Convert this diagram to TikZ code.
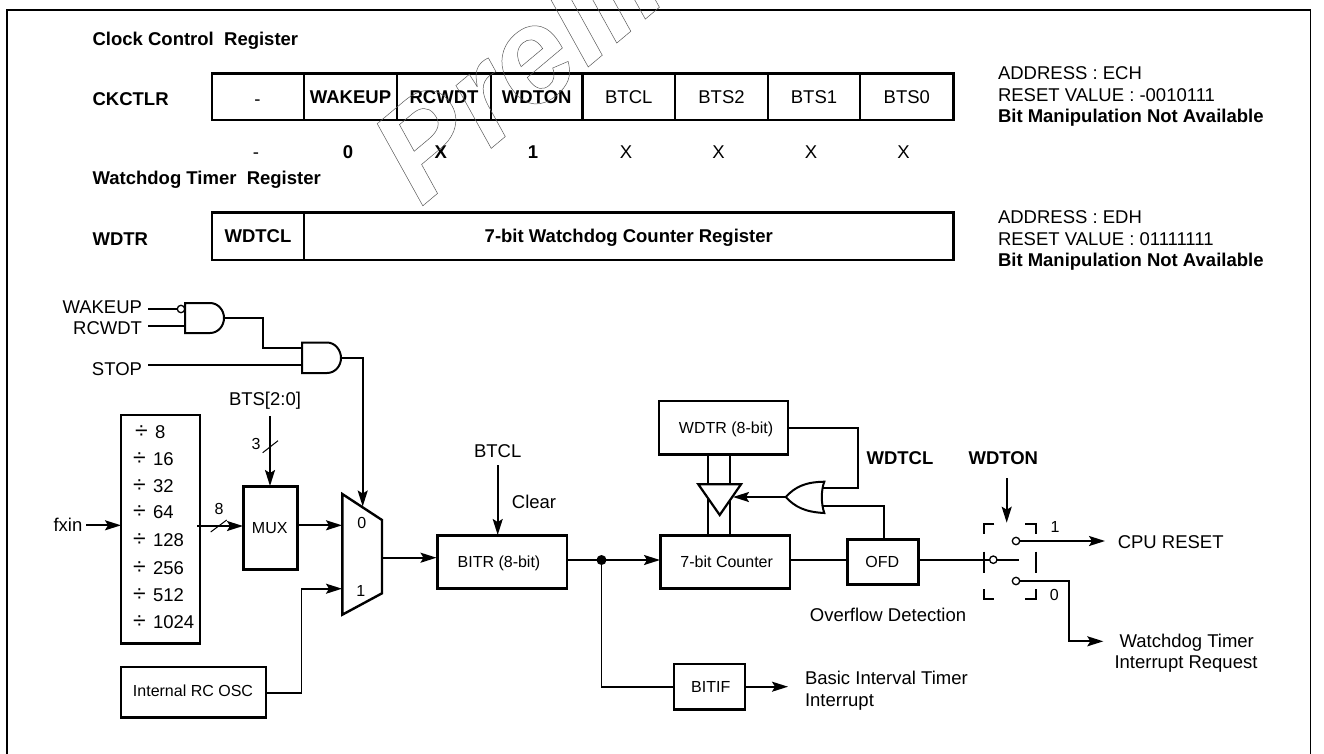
\documentclass[tikz,border=0pt]{standalone}
\usepackage{fontspec}
\setmainfont{Liberation Sans}
\usetikzlibrary{arrows.meta}
\newcommand{\rbox}[6]{%
  \pgfmathsetmacro\cx{(#2+#4)/2}\pgfmathsetmacro\cy{(#3+#5)/2}%
  \pgfmathsetmacro\bw{abs(#4-#2)}\pgfmathsetmacro\bh{abs(#5-#3)}%
  \node[blockbox,minimum width=\bw pt,minimum height=\bh pt] (#1) at (\cx,\cy) {#6};}
\newcommand{\dv}[1]{{\fontsize{23}{24}\selectfont ÷}\hspace{7.5pt}#1}
\tikzset{
  blockbox/.style={draw=black,line width=2.7pt,fill=white,inner sep=0pt,outer sep=0pt,align=center},
  big/.style={font=\fontsize{18.5}{20}\selectfont,inner sep=0pt,outer sep=0pt,text height=13.2pt,text depth=0pt},
  bigb/.style={font=\fontsize{18.5}{20}\selectfont\bfseries,inner sep=0pt,outer sep=0pt,text height=13.2pt,text depth=0pt},
  small/.style={font=\fontsize{16}{18}\selectfont,inner sep=0pt,outer sep=0pt,text height=11.5pt,text depth=0pt},
  wire/.style={line width=1.8pt},
  arrowwire/.style={line width=1.8pt,-{Stealth[length=16pt,width=10pt,inset=3pt]}},
  slashmark/.style={line width=1pt},
  gate/.style={draw=black,line width=2pt,fill=white},
  pin/.style={circle,draw=black,line width=1.3pt,fill=white,minimum size=7.4pt,inner sep=0pt,outer sep=0pt},
  bracket/.style={line width=1.8pt},
  watermark/.style={font=\fontsize{134}{140}\selectfont\bfseries\itshape,inner sep=0pt,outer sep=0pt,anchor=base west,rotate=40}
}
\begin{document}
\begin{tikzpicture}[x=1pt,y=-1pt]
\useasboundingbox (0,0) rectangle (1324,753);
% frame
\coordinate (fbl) at (7,760); \coordinate (ftl) at (7,10);
\coordinate (ftr) at (1310.5,10); \coordinate (fbr) at (1310.5,760);
\draw[line width=1.8pt] (fbl) -- (ftl) -- (ftr) -- (fbr);
% register CKCTLR
\node[bigb,anchor=west] (t1) at (92.6,39) {Clock Control\ \ Register};
\node[bigb,anchor=west] (t2) at (92.6,99) {CKCTLR};
\rbox{c7}{212}{73.3}{304}{120}{}
\rbox{c6}{304}{73.3}{397}{120}{}
\rbox{c5}{397}{73.3}{491}{120}{}
\rbox{c4}{491}{73.3}{582.5}{120}{}
\rbox{c3}{582.5}{73.3}{675}{120}{}
\rbox{c2}{675}{73.3}{768}{120}{}
\rbox{c1}{768}{73.3}{860}{120}{}
\rbox{c0}{860}{73.3}{953.6}{120}{}
\node[big] (c7t) at (257.5,99) {-};
\node[bigb] (c6t) at (c6) {WAKEUP};
\node[bigb] (c5t) at (c5) {RCWDT};
\node[bigb] (c4t) at (c4) {WDTON};
\node[big] (c3t) at (c3) {BTCL};
\node[big] (c2t) at (c2) {BTS2};
\node[big] (c1t) at (c1) {BTS1};
\node[big] (c0t) at (c0) {BTS0};
\node[big] (v7) at (256,152.3) {-};
\node[bigb] (v6) at (348,152.3) {0};
\node[bigb] (v5) at (440.7,152.3) {X};
\node[bigb] (v4) at (533,152.3) {1};
\node[big] (v3) at (626,152.3) {X};
\node[big] (v2) at (718.5,152.3) {X};
\node[big] (v1) at (811,152.3) {X};
\node[big] (v0) at (903.6,152.3) {X};
\node[big,anchor=west] (a1) at (998,73.3) {ADDRESS : ECH};
\node[big,anchor=west] (a2) at (998,95) {RESET VALUE : -0010111};
\node[bigb,anchor=west] (a3) at (998,116) {Bit Manipulation Not Available};
% register WDTR
\node[bigb,anchor=west] (t3) at (92.6,178.3) {Watchdog Timer\ \ Register};
\node[bigb,anchor=west] (t4) at (92.6,238.7) {WDTR};
\rbox{w7}{212}{212.7}{304}{260}{}
\rbox{w6}{304}{212.7}{953.6}{260}{}
\node[bigb] (w7t) at (w7) {WDTCL};
\node[bigb] (w6t) at (w6) {7-bit Watchdog Counter Register};
\node[big,anchor=west] (b1) at (998,217.3) {ADDRESS : EDH};
\node[big,anchor=west] (b2) at (998,238.7) {RESET VALUE : 01111111};
\node[bigb,anchor=west] (b3) at (998,260) {Bit Manipulation Not Available};
% input labels and gates
\node[big,anchor=east] (lwake) at (142,307) {WAKEUP};
\node[big,anchor=east] (lrc) at (142,328) {RCWDT};
\node[big,anchor=east] (lstop) at (142,369) {STOP};
\coordinate (wk0) at (148,309); \coordinate (wk1) at (181,309);
\coordinate (rc0) at (148,325.7); \coordinate (rc1) at (185,325.7);
\coordinate (st0) at (148,365); \coordinate (st1) at (302,365);
\coordinate (g1out) at (224,318); \coordinate (g1bend) at (262.7,348);
\coordinate (g2a) at (302,348); \coordinate (g2out) at (341,358);
\draw[wire] (wk0) -- (wk1);
\draw[wire] (rc0) -- (rc1);
\draw[wire] (st0) -- (st1);
\draw[wire] (g1out) -| (g1bend) -- (g2a);
\draw[gate] (185,303) -- (210,303) .. controls (218,303) and (224,310) .. (g1out) .. controls (224,326) and (218,333) .. (210,333) -- (185,333) -- cycle;
\node[pin] (wkb) at (wk1) {};
\draw[gate] (302,342.5) -- (327,342.5) .. controls (335,342.5) and (341,350) .. (g2out) .. controls (341,366) and (335,373) .. (327,373) -- (302,373) -- cycle;
% divider
\rbox{div}{121}{415}{200}{643.7}{}
\node[big,anchor=west] (d0) at (135,431.7) {\dv{8}};
\node[big,anchor=west] (d1) at (133,459) {\dv{16}};
\node[big,anchor=west] (d2) at (133,485.7) {\dv{32}};
\node[big,anchor=west] (d3) at (133,512.3) {\dv{64}};
\node[big,anchor=west] (d4) at (133,540) {\dv{128}};
\node[big,anchor=west] (d5) at (133,567.7) {\dv{256}};
\node[big,anchor=west] (d6) at (133,594.7) {\dv{512}};
\node[big,anchor=west] (d7) at (133,621.7) {\dv{1024}};
\node[big] (fx) at (68,524.7) {fxin};
\coordinate (fx0) at (86,525.3); \coordinate (fx1) at (121,525.3);
\draw[arrowwire] (fx0) -- (fx1);
% MUX
\rbox{mux}{243.3}{486.7}{297.7}{569.3}{}
\node[small] (muxt) at (269.7,527.7) {MUX};
\coordinate (m0) at (197,526); \coordinate (m1) at (243,526);
\draw[arrowwire] (m0) -- (m1);
\draw[slashmark] (210.7,532) -- (226.7,520);
\node[small] (n8) at (219,508.7) {8};
\node[big] (bts) at (265,399) {BTS[2:0]};
\coordinate (bt0) at (270,416); \coordinate (bt1) at (270,486);
\draw[arrowwire] (bt0) -- (bt1);
\draw[slashmark] (262.7,452.7) -- (278,440.7);
\node[small] (n3) at (256,443.7) {3};
% selector
\coordinate (s0) at (342,525.3); \coordinate (s1) at (342,588.7);
\coordinate (sel) at (362.7,506.5); \coordinate (sout) at (382,557.7);
\draw[gate,line width=2.4pt] (342.3,494) -- (382,520) -- (382,593.3) -- (342.3,614.7) -- cycle;
\draw[arrowwire] (g2out) -| (sel);
\draw[arrowwire] (297.7,525.3) -- (s0);
\node[small] (z0) at (361.7,522.7) {0};
\node[small] (z1) at (360.7,590.7) {1};
% RC OSC
\rbox{osc}{121}{667}{266}{717.7}{}
\node[small] (osct) at (193,690.7) {Internal RC OSC};
\coordinate (oscout) at (266,692.7);
\draw[arrowwire] (oscout) -| (301.5,588.7) -- (s1);
% BITR
\rbox{bitr}{437.7}{535.3}{567}{588.3}{}
\node[small] (bitrt) at (499,561.7) {BITR (8-bit)};
\draw[arrowwire] (sout) -- (436.5,557.7);
\node[big] (btcl) at (497.7,450.7) {BTCL};
\coordinate (bc0) at (497.7,465); \coordinate (bc1) at (497.7,535);
\draw[arrowwire] (bc0) -- (bc1);
\node[big] (clr) at (534,501.7) {Clear};
% counter, WDTR
\rbox{cnt}{660.7}{535.3}{790}{588.3}{}
\node[small] (cntt) at (726.7,561.7) {7-bit Counter};
\rbox{wdtr}{659}{401}{788}{454.7}{}
\node[small] (wdtrt) at (726,427.7) {WDTR (8-bit)};
\coordinate (jn) at (601.5,560);
\draw[arrowwire] (567,560) -- (660,560);
\draw[wire] (jn) |- (674,686.7);
\fill (jn) circle (5pt);
\draw[wire] (708,454.7) -- (708,535.3);
\draw[wire] (730,454.7) -- (730,535.3);
\draw[gate,line width=2.2pt] (698.3,484.3) -- (741,484.3) -- (719.7,515) -- cycle;
% OR gate
\coordinate (ortip) at (785.7,497); \coordinate (orb) at (733,497);
\coordinate (ora) at (822.5,488); \coordinate (orc) at (822.5,506);
\draw[arrowwire] (ortip) -- (orb);
\draw[gate] (ortip) .. controls (795,487) and (805,482) .. (824.3,481.7) .. controls (821,490) and (821,504) .. (824.3,513) .. controls (805,512) and (795,507) .. (ortip);
\draw[wire] (ora) -| (858,427.7) -- (788,427.7);
% OFD
\rbox{ofd}{847.3}{539.3}{918.7}{584.3}{}
\node[small] (ofdt) at (882.3,561.7) {OFD};
\draw[wire] (orc) -| (884.3,539.3);
\draw[wire] (790,560) -- (847.3,560);
\node[big] (ovf) at (888,615) {Overflow Detection};
% BITIF
\rbox{bitif}{674}{664}{745}{709.3}{}
\node[small] (bitift) at (710.7,686.7) {BITIF};
\draw[arrowwire] (745,686.7) -- (788,686.7);
\node[big,anchor=west] (bi1) at (805,677.7) {Basic Interval Timer};
\node[big,anchor=west] (bi2) at (805,700) {Interrupt};
% switch
\node[bigb] (lcl) at (900,457.7) {WDTCL};
\node[bigb] (lon) at (1003.3,457.7) {WDTON};
\coordinate (on0) at (1006.7,478); \coordinate (on1) at (1006.7,522.7);
\draw[arrowwire] (on0) -- (on1);
\draw[bracket] (994.3,524.3) -- (984,524.3) -- (984,534.3);
\draw[bracket] (1025,524.3) -- (1035.7,524.3) -- (1035.7,534.3);
\draw[bracket] (984,551.7) -- (984,572.7);
\draw[bracket] (1035.7,551.7) -- (1035.7,572.7);
\draw[bracket] (984,589.3) -- (984,599.3) -- (994.3,599.3);
\draw[bracket] (1035.7,589.3) -- (1035.7,599.3) -- (1025,599.3);
\coordinate (ctr) at (1019,559.7);
\draw[wire] (918.7,559.7) -- (ctr);
\node[pin] (pin0) at (993.3,559.7) {};
\node[pin] (pin1) at (1016,541) {};
\node[pin] (pin2) at (1016,581) {};
\coordinate (cpu) at (1105,541); \coordinate (wdi) at (1103.3,641.3);
\draw[arrowwire] (pin1) -- (cpu);
\draw[arrowwire] (pin2) -| (1069.3,641.3) -- (wdi);
\node[small] (s1l) at (1055,526.7) {1};
\node[small] (s0l) at (1054.3,595) {0};
\node[big] (cput) at (1170.7,542.3) {CPU RESET};
\node[big] (wd1) at (1186.7,640.7) {Watchdog Timer};
\node[big] (wd2) at (1186,661.7) {Interrupt Request};
% watermark
\begin{scope}
\clip (0,0) rectangle (1324,753);
\node[watermark] (mark) at (421,207.3) {\special{pdf:code 1 Tr 0.5 w 0.35 G}Prelim\special{pdf:code 0 Tr 1 w 0 G}};
\end{scope}
\end{tikzpicture}
\end{document}
